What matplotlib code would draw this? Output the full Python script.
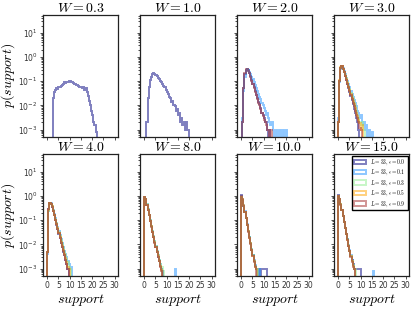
import numpy as np
import matplotlib
matplotlib.use("Agg")
from matplotlib import pyplot as plt

plt.rcParams['mathtext.fontset'] = 'cm'

# disorder strengths (one panel each)
W_values = [0.3, 1.0, 2.0, 3.0, 4.0, 8.0, 10.0, 15.0]
eps_values = [0.0, 0.1, 0.3, 0.5, 0.9]
eps_colors = ['navy', 'dodgerblue', 'lightgreen', 'orange', 'brown']
bin_width = 0.5

# left edge of the first bin in every panel
panel_start = [2.5, 1.0, 0.5, 0.0, 0.0, 0.0, 0.0, 0.0]

# p(support) per bin; None = curve not drawn in that panel
w03 = [[0.02, 0.035, 0.045, 0.05, 0.048, 0.055, 0.06, 0.065, 0.07, 0.08, 0.09, 0.085,
        0.095, 0.09, 0.1, 0.105, 0.095, 0.09, 0.085, 0.08, 0.075, 0.07, 0.065, 0.06,
        0.055, 0.06, 0.05, 0.058, 0.045, 0.05, 0.035, 0.025, 0.015, 0.01, 0.006, 0.004,
        0.002, 0.0015, 0.0008],
       None, None, None, None]
w10 = [[0.002, 0.02, 0.06, 0.11, 0.15, 0.19, 0.21, 0.2, 0.18, 0.16, 0.14, 0.12, 0.105,
        0.09, 0.08, 0.065, 0.055, 0.045, 0.035, 0.03, 0.022, 0.02, 0.014, 0.015, 0.01,
        0.009, 0.006, 0.007, 0.004, 0.005, 0.002, 0.003, 0.0015, 0.002, 0.001, 0.002,
        0.001, 0.001],
       None, None, None, None]
w20 = [[0.002, 0.05, 0.2, 0.3, 0.33, 0.28, 0.22, 0.16, 0.11, 0.08, 0.055, 0.04, 0.028,
        0.02, 0.014, 0.011, 0.008, 0.005, 0.004, 0.003, 0.002, 0.002, 0.001, 0, 0.001],
       [0.003, 0.04, 0.15, 0.27, 0.32, 0.3, 0.25, 0.2, 0.15, 0.12, 0.09, 0.07, 0.05,
        0.04, 0.03, 0.022, 0.018, 0.013, 0.01, 0.008, 0.006, 0.004, 0.005, 0.003, 0.002,
        0.0015, 0.002, 0.001, 0, 0, 0.001, 0, 0, 0.001, 0, 0, 0.001, 0, 0, 0.001],
       None, None,
       [0.002, 0.05, 0.21, 0.31, 0.33, 0.27, 0.21, 0.155, 0.105, 0.075, 0.052, 0.037,
        0.026, 0.018, 0.013, 0.01, 0.007, 0.005, 0.0035, 0.0025, 0.002, 0.0015, 0.001,
        0.001, 0, 0.001]]
w30 = [[0.002, 0.1, 0.36, 0.42, 0.33, 0.23, 0.16, 0.11, 0.075, 0.05, 0.035, 0.024,
        0.016, 0.011, 0.007, 0.005, 0.003, 0.002, 0.001],
       [0.003, 0.09, 0.32, 0.4, 0.34, 0.26, 0.19, 0.14, 0.1, 0.075, 0.055, 0.04, 0.03,
        0.022, 0.016, 0.012, 0.009, 0.006, 0.005, 0.003, 0.004, 0.002, 0.0015, 0.002,
        0.001, 0.0015, 0, 0.001, 0, 0, 0.0008],
       [0.002, 0.1, 0.35, 0.41, 0.33, 0.25, 0.18, 0.13, 0.09, 0.065, 0.047, 0.034, 0.025,
        0.018, 0.013, 0.009, 0.006, 0.004, 0.003, 0.002, 0.0015, 0.002, 0.001, 0.001],
       [0.002, 0.11, 0.37, 0.42, 0.33, 0.24, 0.17, 0.12, 0.085, 0.06, 0.043, 0.03, 0.021,
        0.015, 0.011, 0.008, 0.005, 0.0035, 0.0025, 0.0018, 0.001, 0.0015],
       [0.002, 0.1, 0.36, 0.42, 0.33, 0.24, 0.165, 0.115, 0.08, 0.056, 0.04, 0.028,
        0.019, 0.013, 0.009, 0.006, 0.004, 0.003, 0.002, 0.0012, 0.001]]
w40 = [[0.005, 0.28, 0.52, 0.48, 0.36, 0.24, 0.16, 0.1, 0.066, 0.043, 0.028, 0.018,
        0.012, 0.008, 0.005, 0.0035, 0.0022, 0.0015, 0.001],
       [0.004, 0.24, 0.48, 0.5, 0.39, 0.27, 0.18, 0.12, 0.08, 0.054, 0.036, 0.025, 0.017,
        0.012, 0.008, 0.0055, 0.004, 0.003, 0.002, 0.0015, 0.001, 0.0012],
       [0.005, 0.25, 0.5, 0.49, 0.38, 0.26, 0.17, 0.11, 0.075, 0.05, 0.033, 0.022, 0.015,
        0.01, 0.007, 0.005, 0.0035, 0.0025, 0.0018, 0.0012, 0.001],
       [0.005, 0.27, 0.52, 0.48, 0.37, 0.25, 0.165, 0.105, 0.07, 0.046, 0.03, 0.02,
        0.013, 0.009, 0.006, 0.004, 0.0028, 0.0018, 0.0012, 0.001],
       [0.005, 0.28, 0.53, 0.47, 0.36, 0.24, 0.16, 0.1, 0.067, 0.044, 0.029, 0.019,
        0.012, 0.008, 0.0055, 0.0035, 0.0023, 0.0015, 0.001]]
w80 = [[0.95, 0.72, 0.44, 0.27, 0.16, 0.095, 0.056, 0.034, 0.021, 0.013, 0.008, 0.005,
        0.003, 0.002, 0.0013, 0.001, 0.0008],
       [0.9, 0.75, 0.46, 0.28, 0.17, 0.1, 0.06, 0.037, 0.023, 0.014, 0.009, 0.0055,
        0.0035, 0.0022, 0.0015, 0.001, 0, 0, 0, 0, 0, 0, 0, 0, 0, 0, 0, 0.001],
       [0.92, 0.74, 0.45, 0.28, 0.17, 0.1, 0.058, 0.035, 0.022, 0.014, 0.0085, 0.0055,
        0.0035, 0.0023, 0.0015, 0.001, 0.0012, 0.0008],
       [0.93, 0.73, 0.44, 0.27, 0.16, 0.097, 0.057, 0.034, 0.021, 0.013, 0.008, 0.005,
        0.0032, 0.002, 0.0013, 0.0009],
       [0.94, 0.72, 0.44, 0.27, 0.16, 0.095, 0.055, 0.033, 0.02, 0.012, 0.0075, 0.0047,
        0.003, 0.002, 0.0012, 0.0008]]
w100 = [[1.1, 0.72, 0.4, 0.22, 0.12, 0.065, 0.035, 0.02, 0.011, 0.006, 0.0035, 0.002,
         0.0013, 0.001, 0.001, 0, 0.001, 0, 0.001, 0.001, 0.001, 0.001, 0.001],
        [1.0, 0.7, 0.41, 0.23, 0.125, 0.068, 0.037, 0.021, 0.012, 0.0065, 0.0038, 0.0022,
         0.0014, 0.001, 0, 0.001, 0.001],
        [0.95, 0.7, 0.4, 0.22, 0.12, 0.066, 0.036, 0.02, 0.011, 0.0062, 0.0036, 0.002,
         0.0013, 0.001, 0.001],
        [0.95, 0.72, 0.41, 0.225, 0.122, 0.066, 0.035, 0.019, 0.011, 0.006, 0.0034, 0.002,
         0.0012, 0.001],
        [1.0, 0.71, 0.4, 0.22, 0.12, 0.064, 0.034, 0.019, 0.0105, 0.0058, 0.0033, 0.0019,
         0.0012]]
w150 = [[1.1, 0.75, 0.45, 0.26, 0.15, 0.085, 0.048, 0.027, 0.016, 0.009, 0.0055, 0.0034,
         0.0022, 0.0015, 0.001, 0.001, 0.001, 0.001, 0.001, 0.001],
        [1.0, 0.76, 0.46, 0.27, 0.155, 0.088, 0.05, 0.028, 0.016, 0.0095, 0.0057, 0.0035,
         0.0022, 0.0014, 0.001, 0, 0, 0, 0, 0, 0, 0, 0, 0, 0, 0, 0, 0, 0, 0, 0, 0.0008],
        [1.0, 0.74, 0.45, 0.27, 0.15, 0.086, 0.049, 0.028, 0.016, 0.0092, 0.0056, 0.0034,
         0.0021, 0.0014, 0.001, 0.001],
        [1.0, 0.75, 0.45, 0.26, 0.15, 0.085, 0.048, 0.027, 0.0155, 0.009, 0.0054, 0.0033,
         0.002, 0.0013, 0.001],
        [1.05, 0.74, 0.44, 0.26, 0.148, 0.083, 0.047, 0.026, 0.015, 0.0087, 0.0052,
         0.0031, 0.0019, 0.0012, 0.001]]

panels = [w03, w10, w20, w30, w40, w80, w100, w150]


def plot_panel(ax, start, series):
    for eps, color, vals in zip(eps_values, eps_colors, series):
        if vals is None:
            continue
        vals = np.array(vals)
        edges = start + bin_width * np.arange(len(vals) + 1)
        centers = edges[:-1] + bin_width / 2
        ax.hist(centers, bins=edges, weights=vals, histtype='step', color=color,
                alpha=0.5, linewidth=1.4, label=r'$L=33, \epsilon=%.1f$' % eps)


fig, axes = plt.subplots(2, 4, figsize=(4.15, 3.1), dpi=100, sharex=True, sharey=True)
fig.subplots_adjust(left=0.104, right=0.986, top=0.952, bottom=0.11,
                    wspace=0.29, hspace=0.14)

for i, ax in enumerate(axes.flat):
    plot_panel(ax, panel_start[i], panels[i])
    ax.set_yscale('log')
    ax.set_title(r'$W=%.1f$' % W_values[i], fontsize=10, pad=1.5)
    ax.tick_params(labelsize=5.5, length=2.5, width=0.6, pad=1.5, colors='#333333')
    ax.tick_params(which='minor', length=1.5, width=0.5)
    for sp in ax.spines.values():
        sp.set_linewidth(0.9)
        sp.set_color('#222222')

axes[0, 0].set_ylim(5e-4, 55)
axes[0, 0].set_xlim(-1.8, 31.6)
axes[0, 0].set_xticks([0, 5, 10, 15, 20, 25, 30])
for ax in axes[:, 0]:
    ax.set_ylabel(r'$p(support)$', fontsize=10, labelpad=1)
for ax in axes[1, :]:
    ax.set_xlabel(r'$support$', fontsize=10, labelpad=1)

axes[1, 3].legend(loc='upper right', fontsize=4, fancybox=False, edgecolor='black',
                  framealpha=1, borderpad=0.3, handlelength=2.2, handleheight=0.8,
                  labelspacing=0.15, borderaxespad=0.3)

fig.savefig('out.png', dpi=100)
